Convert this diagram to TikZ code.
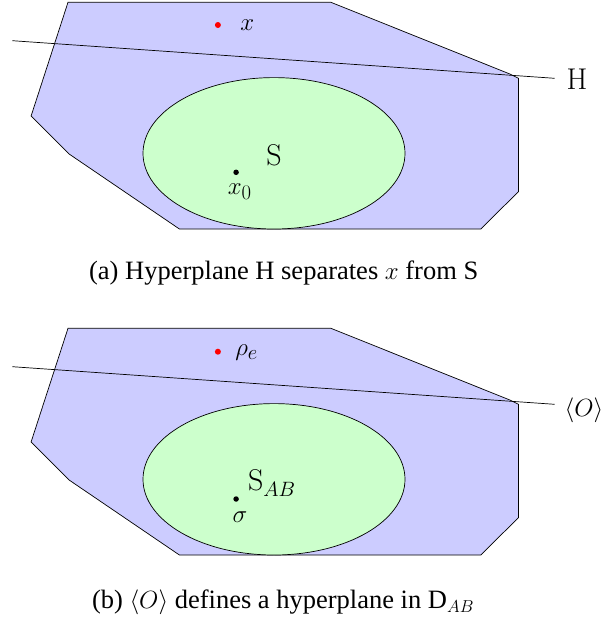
\documentclass[tikz,border=0pt]{standalone}
\usepackage{fontspec}
\usetikzlibrary{shapes.geometric}
\newfontfamily\capfont{Liberation Serif}
\begin{document}
\begin{tikzpicture}[x=1pt,y=-1pt,line width=0.7pt,
  region/.style={draw=black,fill=blue!20,line join=miter},
  convex/.style={draw=black,fill=green!20},
  lbl/.style={font=\fontsize{30}{36}\selectfont,inner sep=0pt},
  captext/.style={font=\capfont\fontsize{26.5}{32}\selectfont,inner sep=0pt},
  reddot/.style={circle,fill=red,inner sep=0pt,minimum size=6pt},
  blackdot/.style={circle,fill=black,inner sep=0pt,minimum size=5.5pt}]
\useasboundingbox (0,0) rectangle (614,621);
% ---------- panel (a)
\begin{scope}
  \draw[region] (68,2.3) -- (330.9,2.3) -- (509.9,74) -- (518.4,78.3) -- (518.4,191.7)
    -- (480.8,229) -- (179.4,229) -- (69.1,154) -- (31.1,116) -- cycle;
  \node[convex,ellipse,minimum width=262pt,minimum height=151.4pt,inner sep=0pt] (Sa) at (274,153.3) {};
  \coordinate (hA1) at (12.4,40.7);
  \coordinate (hA2) at (554.6,78.3);
  \draw (hA1) -- (hA2);
  \node[lbl] (Ha) at (577,79) {H};
  \node[reddot] (xa) at (217.9,25) {};
  \node[lbl] (xla) at (247.4,25) {$x$};
  \node[lbl] (Sla) at (274,155) {S};
  \node[blackdot] (x0a) at (236.1,172.3) {};
  \node[lbl] (x0la) at (239.8,191.7) {$x_0$};
  \node[captext] (capa) at (283.7,273) {(a) Hyperplane H separates $x$ from S};
\end{scope}
% ---------- panel (b)
\begin{scope}[shift={(0,326)}]
  \draw[region] (68,2.3) -- (330.9,2.3) -- (509.9,74) -- (518.4,78.3) -- (518.4,191.7)
    -- (480.8,229) -- (179.4,229) -- (69.1,154) -- (31.1,116) -- cycle;
  \node[convex,ellipse,minimum width=262pt,minimum height=151.4pt,inner sep=0pt] (Sb) at (274,153.3) {};
  \coordinate (hB1) at (12.4,40.7);
  \coordinate (hB2) at (554.6,78.3);
  \draw (hB1) -- (hB2);
  \node[lbl] (Ob) at (584,84.5) {$\langle O\rangle$};
  \node[reddot] (rb) at (217.9,25.7) {};
  \node[lbl] (rlb) at (246.6,27) {$\rho_e$};
  \node[lbl] (Slb) at (271.8,157.3) {S$_{AB}$};
  \node[blackdot] (sb) at (236.1,173) {};
  \node[lbl] (slb) at (240,191.5) {$\sigma$};
  \node[captext] (capb) at (283,276.5) {(b) $\langle O\rangle$ defines a hyperplane in D$_{AB}$};
\end{scope}
\end{tikzpicture}
\end{document}
